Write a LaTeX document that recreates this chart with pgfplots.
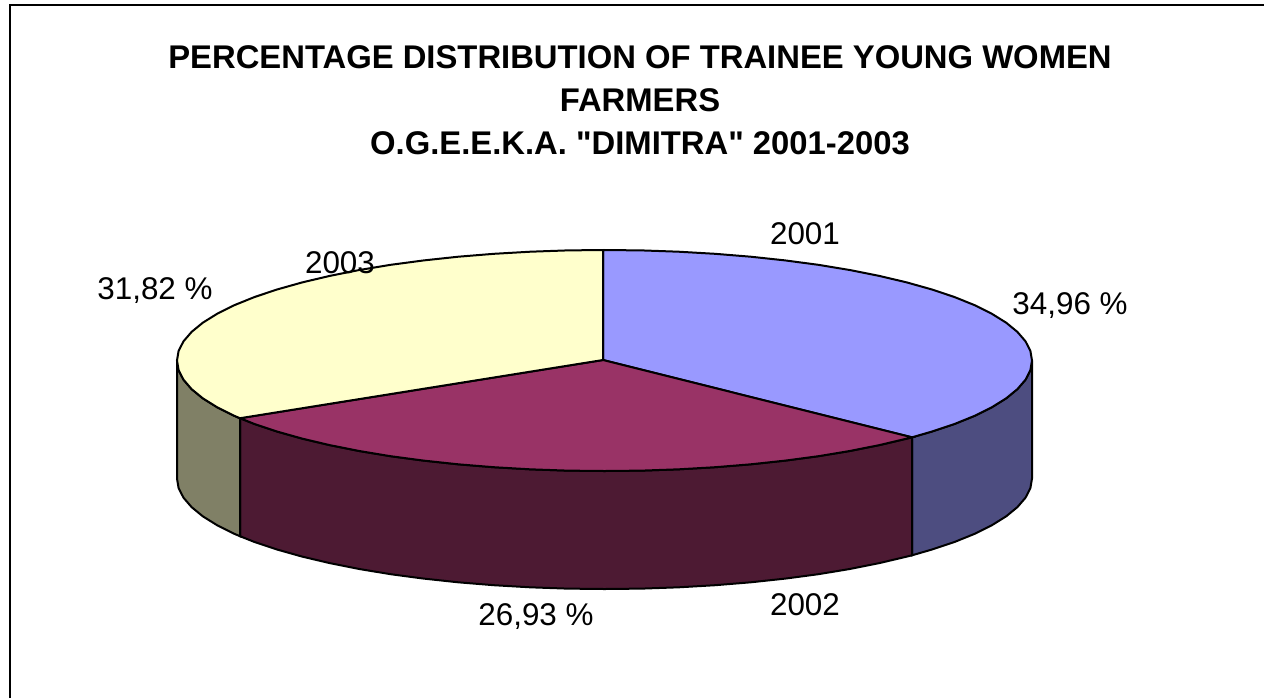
\documentclass[border=0pt]{standalone}
\usepackage{fontspec}
\setmainfont{Liberation Sans}
% no tex mapping here, so that " stays a straight quote
\newfontfamily\arialplain{Liberation Sans}
\usepackage{pgfplots}
\pgfplotsset{compat=1.18}
\definecolor{top01}{HTML}{9999FF}
\definecolor{top02}{HTML}{993366}
\definecolor{top03}{HTML}{FFFFCC}
\definecolor{side01}{HTML}{4D4D80}
\definecolor{side02}{HTML}{4D1A33}
\definecolor{side03}{HTML}{808066}
\tikzset{lbl/.style={font=\fontsize{15.7}{18}\selectfont}}
\begin{document}
\begin{tikzpicture}
\begin{axis}[
  scale only axis,
  width=632pt,
  height=349pt,
  xmin=0, xmax=1264,
  ymin=0, ymax=698,
  y dir=reverse,
  hide axis,
  clip=true,
  clip mode=individual,
]
% keeps the page as large as the whole canvas
\path (axis cs:0,0) rectangle (axis cs:1264,698);
% frame: only the left and top edges show
\addplot[black, line width=0.8pt, forget plot] coordinates {(10,698)(10,5)(1264,5)};

% sides
\addplot[fill=side01, draw=black, line width=1pt, forget plot] coordinates {
  (1032,360.5)(1032,478.5)(1030.4,488.1)(1025.5,497.7)(1017.4,507.1)(1006.2,516.3)(991.9,525.2)
  (974.7,533.8)(954.7,541.9)(932,549.5)(912,555.3)(912,437.3)(932,431.5)(954.7,423.9)(974.7,415.8)
  (991.9,407.2)(1006.2,398.3)(1017.4,389.1)(1025.5,379.7)(1030.4,370.1)(1032,360.5)
};
\addplot[fill=side02, draw=black, line width=1pt, forget plot] coordinates {
  (912,437.3)(912,555.3)(906.8,556.6)(879.3,563.1)(849.7,569)(818.3,574.2)(785.2,578.6)(750.7,582.3)
  (715.1,585.2)(678.7,587.3)(641.8,588.6)(604.5,589)(567.2,588.6)(530.3,587.3)(493.9,585.2)(458.3,582.3)
  (423.8,578.6)(390.7,574.2)(359.3,569)(329.7,563.1)(302.2,556.6)(277,549.5)(254.3,541.9)(240,536.2)
  (240,418.2)(254.3,423.9)(277,431.5)(302.2,438.6)(329.7,445.1)(359.3,451)(390.7,456.2)(423.8,460.6)
  (458.3,464.3)(493.9,467.2)(530.3,469.3)(567.2,470.6)(604.5,471)(641.8,470.6)(678.7,469.3)(715.1,467.2)
  (750.7,464.3)(785.2,460.6)(818.3,456.2)(849.7,451)(879.3,445.1)(906.8,438.6)(912,437.3)
};
\addplot[fill=side03, draw=black, line width=1pt, forget plot] coordinates {
  (177,360.5)(177,478.5)(178.6,488.1)(183.5,497.7)(191.6,507.1)(202.8,516.3)(217.1,525.2)(234.3,533.8)
  (240,536.2)(240,418.2)(234.3,415.8)(217.1,407.2)(202.8,398.3)(191.6,389.1)(183.5,379.7)(178.6,370.1)(177,360.5)
};

% top of the pie
\addplot[fill=top01, draw=black, line width=1pt, forget plot] coordinates {
  (603,360)(603,250)(641.8,250.4)(678.7,251.7)(715.1,253.8)(750.7,256.7)(785.2,260.4)(818.3,264.8)
  (849.7,270)(879.3,275.9)(906.8,282.4)(932,289.5)(954.7,297.1)(974.7,305.2)(991.9,313.8)(1006.2,322.7)
  (1017.4,331.9)(1025.5,341.3)(1030.4,350.9)(1032,360.5)(1030.4,370.1)(1025.5,379.7)(1017.4,389.1)
  (1006.2,398.3)(991.9,407.2)(974.7,415.8)(954.7,423.9)(932,431.5)(912,437.3)(603,360)
};
\addplot[fill=top02, draw=black, line width=1pt, forget plot] coordinates {
  (603,360)(912,437.3)(906.8,438.6)(879.3,445.1)(849.7,451)(818.3,456.2)(785.2,460.6)(750.7,464.3)
  (715.1,467.2)(678.7,469.3)(641.8,470.6)(604.5,471)(567.2,470.6)(530.3,469.3)(493.9,467.2)(458.3,464.3)
  (423.8,460.6)(390.7,456.2)(359.3,451)(329.7,445.1)(302.2,438.6)(277,431.5)(254.3,423.9)(240,418.2)(603,360)
};
\addplot[fill=top03, draw=black, line width=1pt, forget plot] coordinates {
  (603,360)(240,418.2)(234.3,415.8)(217.1,407.2)(202.8,398.3)(191.6,389.1)(183.5,379.7)(178.6,370.1)
  (177,360.5)(178.6,350.9)(183.5,341.3)(191.6,331.9)(202.8,322.7)(217.1,313.8)(234.3,305.2)(254.3,297.1)
  (277,289.5)(302.2,282.4)(329.7,275.9)(359.3,270)(390.7,264.8)(423.8,260.4)(458.3,256.7)(493.9,253.8)
  (530.3,251.7)(567.2,250.4)(603,250)(603,360)
};

% title and labels
\node[align=center, font=\arialplain\fontsize{16.4}{21.5}\selectfont\bfseries] at (axis cs:640,100)
  {PERCENTAGE DISTRIBUTION OF TRAINEE YOUNG WOMEN\\FARMERS\\O.G.E.E.K.A. "DIMITRA" 2001-2003};
\node[lbl] at (axis cs:805,234) {2001};
\node[lbl] at (axis cs:1070,306) {34,96 \%};
\node[lbl] at (axis cs:805,605) {2002};
\node[lbl] at (axis cs:536,617) {26,93 \%};
\node[lbl] at (axis cs:340,263) {2003};
\node[lbl] at (axis cs:155,291) {31,82 \%};
\end{axis}
\end{tikzpicture}
\end{document}
